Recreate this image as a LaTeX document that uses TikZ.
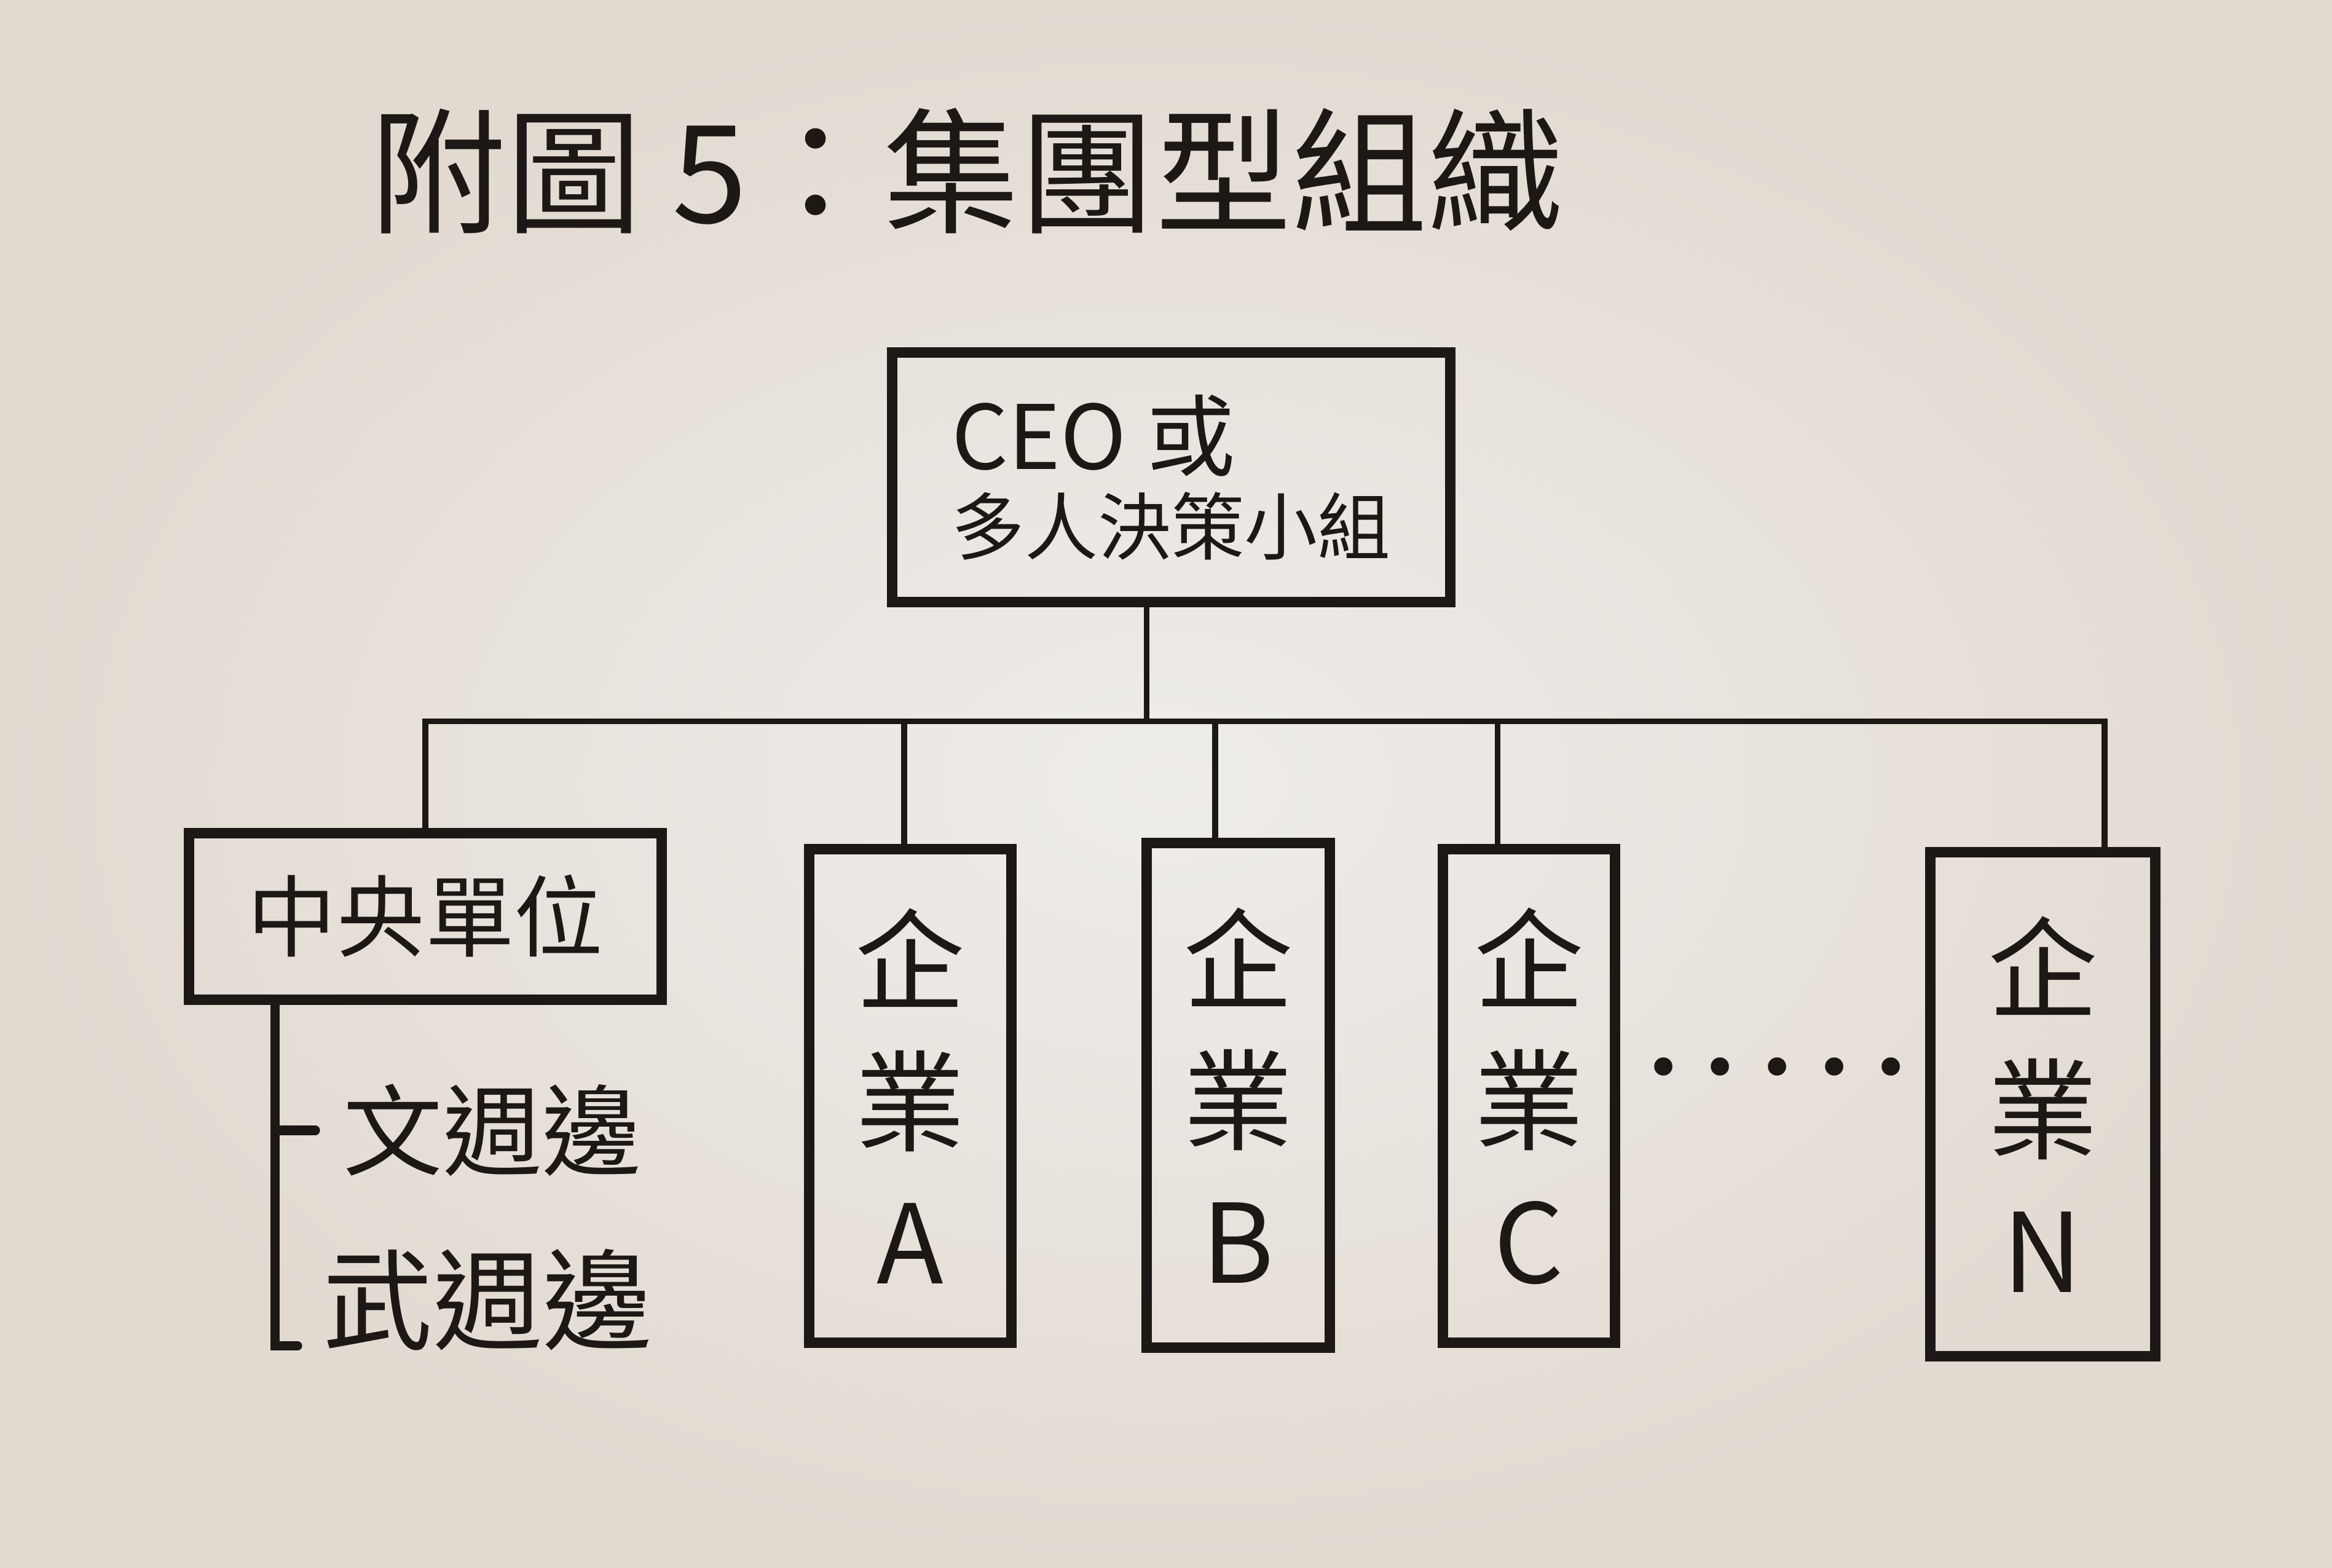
\documentclass[tikz,border=0pt]{standalone}
\usepackage{fontspec}
\setmainfont{Noto Sans CJK TC}
\newfontfamily\dotfont{DejaVu Sans}
\usetikzlibrary{positioning,calc}

\definecolor{paper}{RGB}{239,237,234}
\definecolor{paperdark}{RGB}{226,218,209}
\definecolor{ink}{RGB}{28,24,22}

\begin{document}
\begin{tikzpicture}[
  box/.style={draw=ink, line width=2pt, inner sep=0pt, text=ink},
  firm/.style={box, align=center, font=\fontsize{21}{27}\selectfont},
  link/.style={draw=ink, line width=1.1pt},
  brace/.style={draw=ink, line width=1.8pt, line cap=round}]
  \shade[inner color=paper, outer color=paperdark] (0,0) rectangle (15.68,-10.54);
  \useasboundingbox (0,0) rectangle (15.68,-10.54);

  % title
  \node[text=ink, font=\fontsize{26}{26}\selectfont] (title) at (6.50,-1.15) {附圖 5：集團型組織};

  % top box
  \node[box, minimum width=3.75cm, minimum height=1.68cm, align=left] (ceo) at (7.875,-3.21)
    {{\fontsize{17}{21}\selectfont CEO 或}\\[2pt]{\fontsize{14}{18}\selectfont 多人決策小組}};

  % second level
  \node[box, minimum width=3.18cm, minimum height=1.12cm, font=\fontsize{17}{17}\selectfont] (centre) at (2.86,-6.16) {中央單位};
  \node[firm, minimum width=1.36cm, minimum height=3.32cm] (firmA) at (6.12,-7.37) {企\\業\\A};
  \node[firm, minimum width=1.23cm, minimum height=3.39cm] (firmB) at (8.325,-7.365) {企\\業\\B};
  \node[firm, minimum width=1.16cm, minimum height=3.32cm] (firmC) at (10.28,-7.37) {企\\業\\C};
  \node[firm, minimum width=1.51cm, minimum height=3.39cm] (firmN) at (13.735,-7.425) {企\\業\\N};
  \node[text=ink, font=\dotfont\fontsize{12}{12}\selectfont] (dots) at (11.95,-7.22) {• • • • •};

  % bus
  \coordinate (busL) at (2.86,-4.85);
  \coordinate (busC) at (7.71,-4.85);
  \coordinate (busR) at (14.15,-4.85);
  \draw[link] (busC |- ceo.south) -- (busC);
  \draw[link] (busL |- centre.north) -- (busL) -- (busR) -- (busR |- firmN.north);
  \draw[link] (6.08,-4.85) -- (6.08,-4.85 |- firmA.north);
  \draw[link] (8.17,-4.85) -- (8.17,-4.85 |- firmB.north);
  \draw[link] (10.07,-4.85) -- (10.07,-4.85 |- firmC.north);

  % surrounding units
  \node[text=ink, font=\fontsize{19}{19}\selectfont] (wen) at (3.31,-7.60) {文週邊};
  \node[text=ink, font=\fontsize{21}{21}\selectfont] (wu) at (3.28,-8.74) {武週邊};
  \coordinate (brk) at (1.85,-9.05);
  \draw[brace] (brk |- centre.south) -- (brk) -- ++(0.15,0);
  \draw[brace] (brk |- wen) -- ++(0.27,0);
\end{tikzpicture}
\end{document}
